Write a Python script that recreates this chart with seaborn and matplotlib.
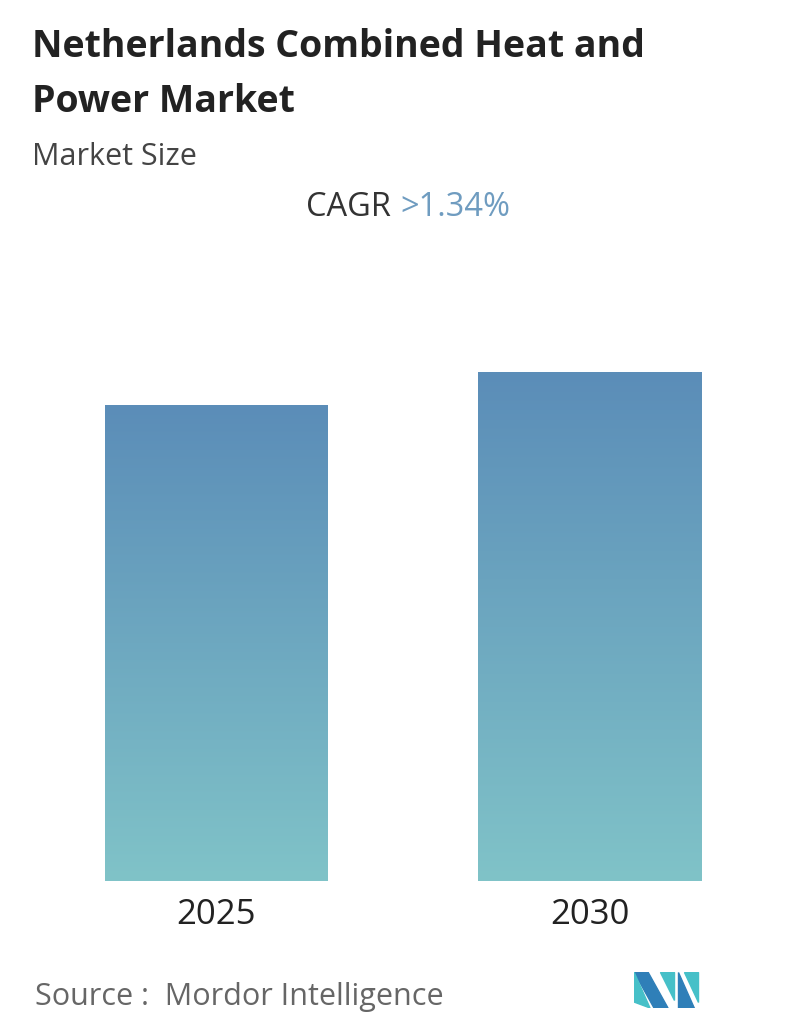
import matplotlib
matplotlib.use("Agg")
import matplotlib.pyplot as plt
import seaborn as sns
import numpy as np
import pandas as pd
from matplotlib.colors import LinearSegmentedColormap
from matplotlib.patches import Polygon

years = ["2025", "2030"]
values = [1.0, 1.069]

sns.set_theme(style="white")
plt.rcParams['font.family'] = ['Open Sans', 'DejaVu Sans']

W, H = 796, 1034
fig = plt.figure(figsize=(W/100, H/100), dpi=100)
ax = fig.add_axes([0, 1-881/H, 1, (881-230)/H])
df = pd.DataFrame({"year": years, "value": values})
sns.barplot(data=df, x="year", y="value", ax=ax, color="#6aa3bd", width=223/373)
c0 = 216.5
top_px = 405

cmap = LinearSegmentedColormap.from_list("g", ["#80c3c8", "#5b8db8"])
grad = np.linspace(0, 1, 256).reshape(-1, 1)
for p in ax.patches:
    x0, y0 = p.get_x(), p.get_y()
    w, h = p.get_width(), p.get_height()
    im = ax.imshow(grad, extent=[x0, x0+w, y0, y0+h], origin="lower",
                   cmap=cmap, aspect="auto", zorder=3)
    im.set_clip_path(p)
    p.set_facecolor("none")
ax.set_xlim(-(c0)/373, (W-c0)/373)
ax.set_ylim(0, values[0] * (881-230)/(881-top_px))
ax.axis("off")

for i, y in enumerate(years):
    fig.text((c0 + 373*i)/W, 1-915/H, y, ha="center", va="center", fontsize=25, color="#222222")

fig.text(32/W, 1-47/H, "Netherlands Combined Heat and", fontsize=27, fontweight="bold", color="#222222", va="center")
fig.text(32/W, 1-102/H, "Power Market", fontsize=27, fontweight="bold", color="#222222", va="center")
fig.text(32/W, 1-157/H, "Market Size", fontsize=22, color="#444444", va="center")
fig.text(400/W, 1-208/H, "CAGR ", fontsize=23.5, color="#333333", va="center", ha="right")
fig.text(400/W, 1-208/H, ">1.34%", fontsize=23.5, color="#6f9cc0", va="center", ha="left")
fig.text(35/W, 1-997/H, "Source :  Mordor Intelligence", fontsize=22, color="#666666", va="center")

lax = fig.add_axes([634/W, 1-1008/H, 66/W, 36/H])
lax.set_xlim(0, 66); lax.set_ylim(0, 36); lax.axis("off")
lax.add_patch(Polygon([(0,36),(14,36),(34,0),(20,0)], color="#2f7fb8"))
lax.add_patch(Polygon([(0,36),(0,6),(16,0)], color="#46c0c8"))
lax.add_patch(Polygon([(26,36),(40,36),(40,8)], color="#46c0c8"))
lax.add_patch(Polygon([(44,36),(44,0),(60,0)], color="#2f7fb8"))
lax.add_patch(Polygon([(50,36),(64,36),(64,6)], color="#46c0c8"))

fig.savefig("out.png", dpi=100)
